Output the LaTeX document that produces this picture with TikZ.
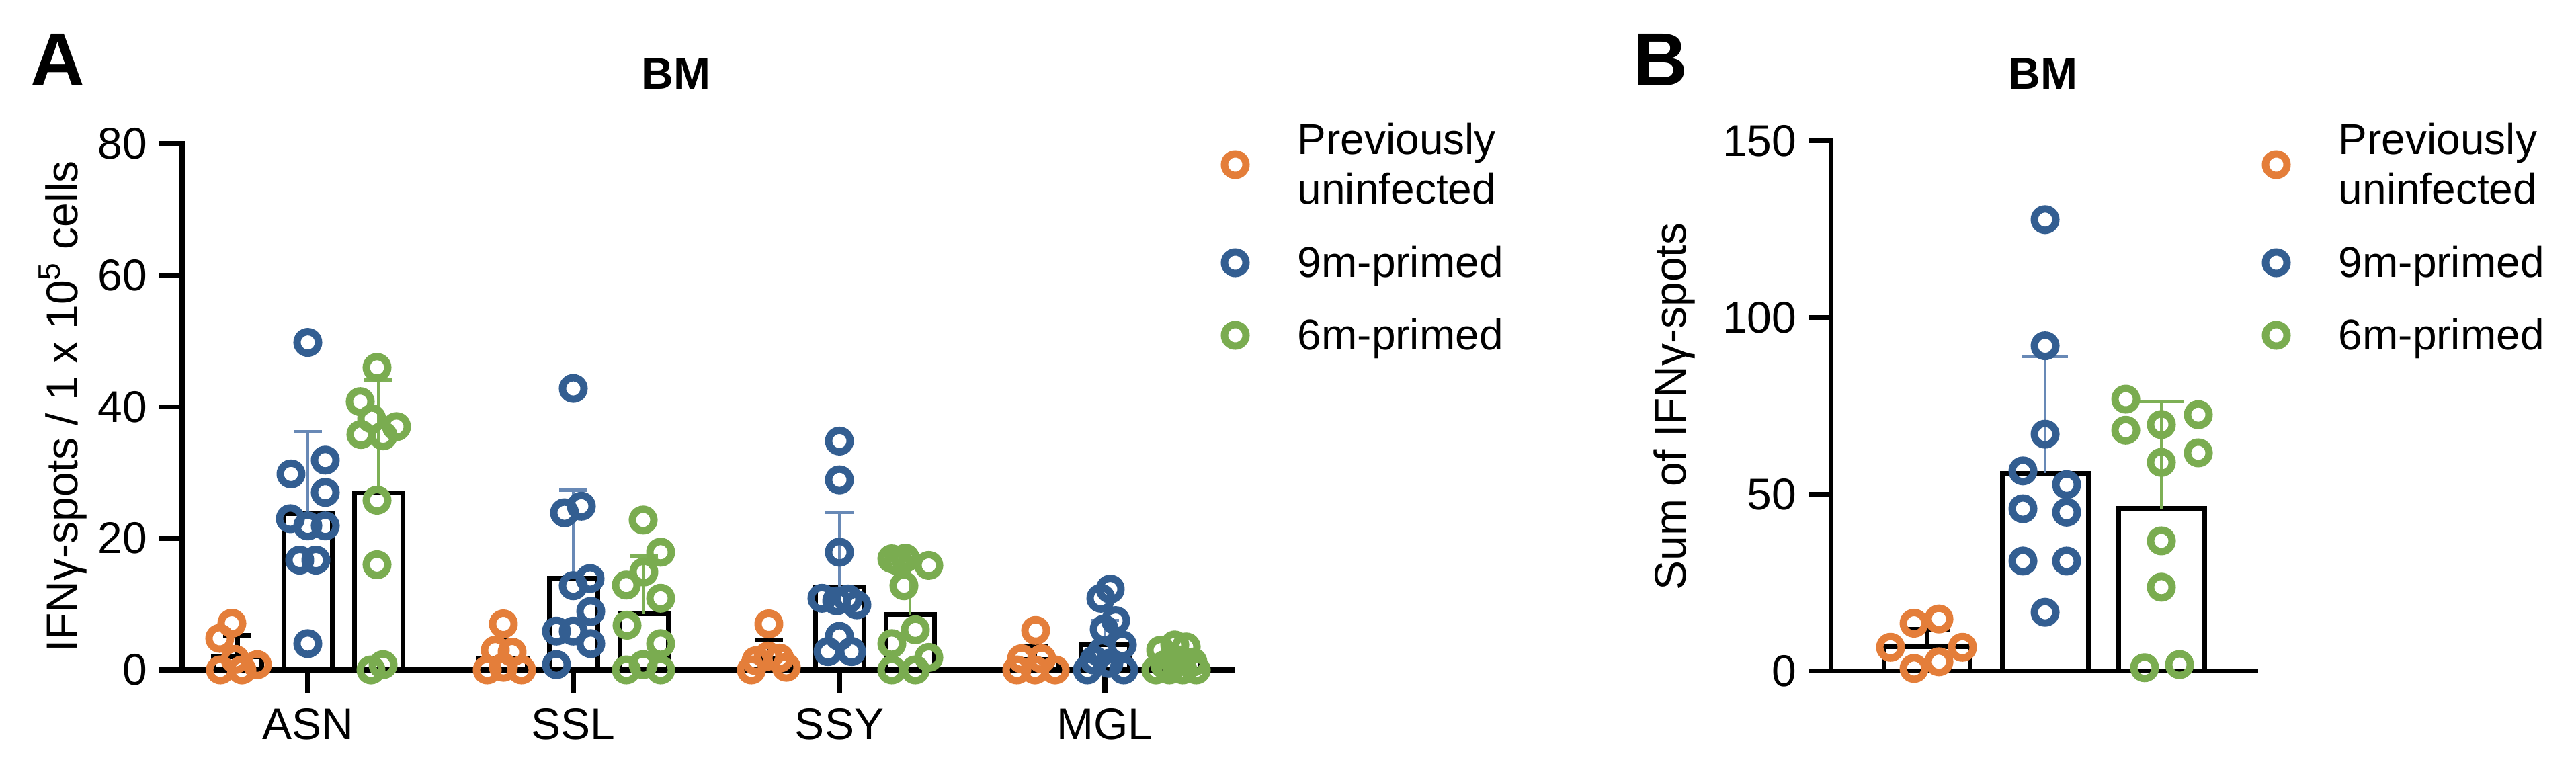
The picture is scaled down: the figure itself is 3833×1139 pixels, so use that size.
\documentclass[tikz,border=0pt]{standalone}
\usepackage{fontspec}
\setmainfont{Liberation Sans}
\definecolor{cO}{RGB}{228,126,58}
\definecolor{cB}{RGB}{51,94,145}
\definecolor{cG}{RGB}{122,172,80}
\definecolor{cBe}{RGB}{104,137,182}
\definecolor{cGe}{RGB}{126,176,86}
% #1 centre, #2 half width, #3 value, #4 error top, #5 cap half width, #6 style
\newcommand\mybar[6]{%
  \draw[barline] ({#1-#2},0) |- ({#1+#2},#3) -- ({#1+#2},0);
  \draw[#6] (#1,#3) -- (#1,#4) ({#1-#5},#4) -- ({#1+#5},#4);
}
\begin{document}
\begin{tikzpicture}[x=0.25pt,y=-0.25pt,
  axisline/.style={line width=1.9pt},
  barline/.style={line width=1.75pt, line join=miter},
  errO/.style={line width=1.75pt, black},
  errB/.style={line width=1.2pt, cBe},
  errG/.style={line width=1.2pt, cGe},
  dot/.style={line width=2.75pt},
  lbl/.style={font=\fontsize{16.5}{19.8}\selectfont, inner sep=0pt},
  leg/.style={font=\fontsize{16}{18.5}\selectfont, inner sep=0pt, align=left},
  panel/.style={font=\fontsize{28}{30}\selectfont\bfseries, inner sep=0pt},
  ttl/.style={font=\fontsize{16.5}{19}\selectfont\bfseries, inner sep=0pt}]
\useasboundingbox (0,0) rectangle (3833,1139);
\fill[white] (0,0) rectangle (3833,1139);

%================ Panel A =================
\node[panel, anchor=base west] (labA) at (45,127) {A};
\node[ttl, anchor=base] (titA) at (1006,132) {BM};
\draw[axisline] (237,214) -- (271,214) -- (271,997);
\draw[axisline] (237,997) -- (1838,997);
\foreach \v in {20,40,60}
  \draw[axisline] (237,{997-9.7875*\v}) -- (271,{997-9.7875*\v});
\foreach \v in {0,20,40,60,80}
  \node[lbl, anchor=east] (ya\v) at (220,{997-9.7875*\v}) {\v};
\foreach \c/\t in {458/ASN,853/SSL,1249/SSY,1644/MGL}{
  \draw[axisline] (\c,997) -- (\c,1031);
  \node[lbl, anchor=base] (xa\t) at (\c,1100) {\t};
}
\node[lbl, rotate=90, anchor=base] (ylabA) at (115,605)
  {IFNγ-spots / 1 x 10\textsuperscript{5} cells};

\begin{scope}[shift={(0,997)}, y={(0pt,2.446875pt)}]
  % ASN
  \mybar{353}{36}{2.0}{5.3}{21}{errO}
  \mybar{458}{36}{23.8}{36.2}{21}{errB}
  \mybar{563}{36}{26.9}{44.1}{21}{errG}
  % SSL
  \mybar{748}{36}{1.8}{4.6}{21}{errO}
  \mybar{853}{36}{13.9}{27.3}{21}{errB}
  \mybar{958}{36}{8.5}{17.3}{21}{errG}
  % SSY
  \mybar{1144}{36}{1.8}{4.5}{21}{errO}
  \mybar{1249}{36}{12.6}{24.0}{21}{errB}
  \mybar{1354}{36}{8.4}{17.0}{21}{errG}
  % MGL
  \mybar{1539}{36}{1.6}{3.5}{21}{errO}
  \mybar{1644}{36}{3.8}{7.5}{21}{errB}
  \mybar{1749}{36}{1.5}{2.5}{21}{errG}
  % points
  \foreach \px/\v in {327/4.8,345/7.1,328/0,360/0,383/0.8,350/1.6,
      749/7.0,737/3.0,762/2.7,725/0,749/0.4,776/0,
      1144/7.0,1125/1.4,1170/0.4,1118/0,1143/2.1,1160/1.8,
      1541/6.0,1520/1.7,1550/1.7,1513/0,1540/0,1570/0}
    \draw[dot, cO] (\px,\v) circle[radius=4pt];
  \foreach \px/\v in {458/49.8,433/29.8,484/31.9,484/27.0,432/23.0,458/21.9,484/21.9,446/16.7,470/16.7,458/4.0,
      853/42.8,840/23.9,865/24.9,853/12.8,878/13.9,879/8.9,828/5.9,853/5.9,879/4.0,828/0.8,
      1249/34.8,1249/28.9,1249/17.9,1223/10.9,1245/10.5,1262/10.8,1275/9.9,1249/5.1,1232/2.8,1267/2.8,
      1652/12.3,1638/10.9,1660/7.5,1643/6.2,1670/3.8,1640/2.8,1618/0,1650/1.0,1672/0,1628/1.5}
    \draw[dot, cB] (\px,\v) circle[radius=4pt];
  \foreach \px/\v in {561/46.0,536/40.8,553/38.2,537/35.8,570/35.6,590/37.0,561/25.8,561/16.0,552/0,570/0.8,
      957/22.8,983/17.9,958/14.9,932/12.9,983/10.9,933/6.8,983/4.0,932/0,957/0.8,983/0,
      1327/16.9,1347/17.0,1337/16.5,1382/15.9,1345/12.8,1362/6.1,1327/4.0,1382/1.9,1327/0,1362/0,
      1727/3.0,1748/3.8,1765/3.5,1775/1.2,1720/0,1740/0,1760/0,1780/0,1733/0.8,1755/1.5}
    \draw[dot, cG] (\px,\v) circle[radius=4pt];
\end{scope}

% legend A
\draw[dot, cO] (1838,245) circle[radius=4pt];
\draw[dot, cB] (1838,391) circle[radius=4pt];
\draw[dot, cG] (1838,499) circle[radius=4pt];
\node[leg, anchor=west] (legA1) at (1930,243.6) {Previously\\uninfected};
\node[leg, anchor=base west] (legA2) at (1930,412) {9m-primed};
\node[leg, anchor=base west] (legA3) at (1930,520) {6m-primed};

%================ Panel B =================
\node[panel, anchor=base west] (labB) at (2430,127) {B};
\node[ttl, anchor=base] (titB) at (3040,132) {BM};
\draw[axisline] (2692,209) -- (2724.5,209) -- (2724.5,998.5);
\draw[axisline] (2692,998.5) -- (3360,998.5);
\foreach \v in {50,100}
  \draw[axisline] (2692,{998.5-5.26*\v}) -- (2724.5,{998.5-5.26*\v});
\foreach \v in {0,50,100,150}
  \node[lbl, anchor=east] (yb\v) at (2674,{998.5-5.26*\v}) {\v};
\node[lbl, rotate=90, anchor=base] (ylabB) at (2508,605) {Sum of IFNγ-spots};

\begin{scope}[shift={(0,998.5)}, y={(0pt,1.315pt)}]
  \mybar{2867}{64}{6.9}{11.8}{34}{errO}
  \mybar{3043}{64}{55.9}{89}{34}{errB}
  \mybar{3216}{64}{46}{76.2}{34}{errG}
  \foreach \px/\v in {2848/13.5,2885/14.7,2813/6.7,2920/6.7,2848/0.7,2885/2.6}
    \draw[dot, cO] (\px,\v) circle[radius=4pt];
  \foreach \px/\v in {3043/127.7,3043/92,3043/67,3010/56.6,3075/52.7,3010/45.9,3075/44.9,3010/31.1,3075/31.1,3043/16.6}
    \draw[dot, cB] (\px,\v) circle[radius=4pt];
  \foreach \px/\v in {3163/76.9,3271/72.5,3216/69.7,3163/68.1,3271/61.7,3216/59.0,3216/36.8,3216/23.7,3191/0.9,3243/1.8}
    \draw[dot, cG] (\px,\v) circle[radius=4pt];
\end{scope}

% legend B
\draw[dot, cO] (3387,245) circle[radius=4pt];
\draw[dot, cB] (3387,391) circle[radius=4pt];
\draw[dot, cG] (3387,499) circle[radius=4pt];
\node[leg, anchor=west] (legB1) at (3479,243.6) {Previously\\uninfected};
\node[leg, anchor=base west] (legB2) at (3479,412) {9m-primed};
\node[leg, anchor=base west] (legB3) at (3479,520) {6m-primed};
\end{tikzpicture}
\end{document}
